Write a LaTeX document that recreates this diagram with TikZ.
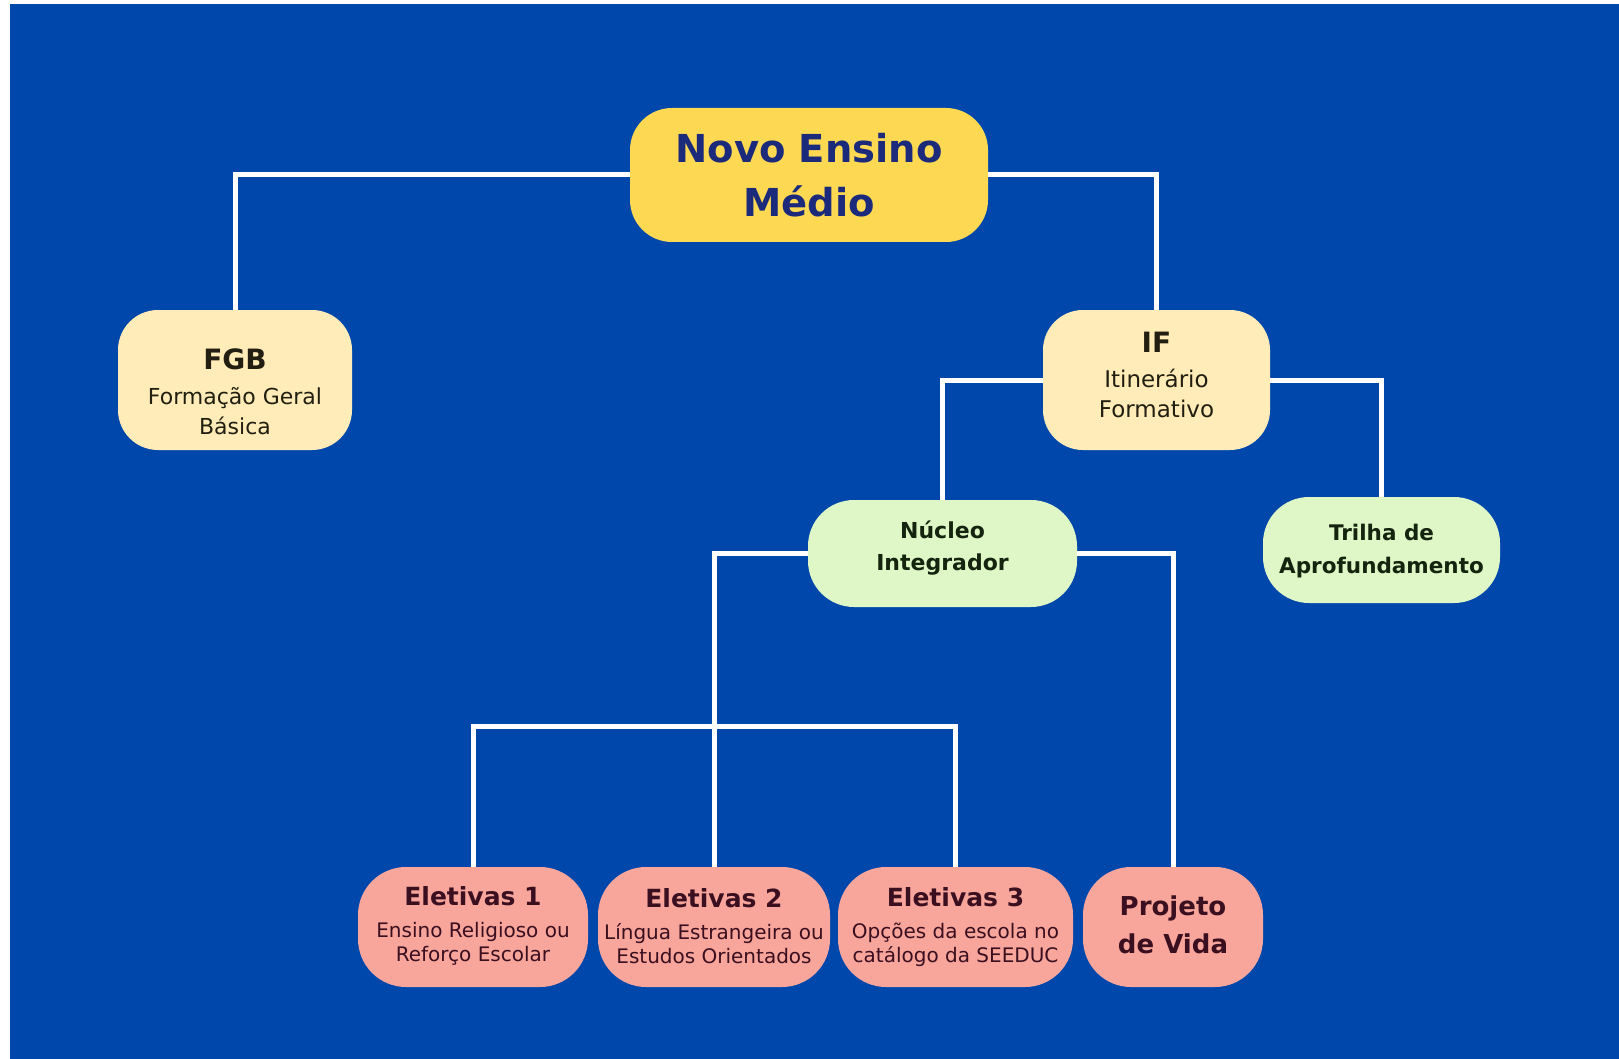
\documentclass[tikz,border=0pt]{standalone}
\usepackage{fontspec}
\setmainfont{DejaVu Sans}
\definecolor{bgblue}{HTML}{0047AB}
\definecolor{topfill}{HTML}{FDD853}
\definecolor{topink}{HTML}{1C2A7C}
\definecolor{creamfill}{HTML}{FFECB8}
\definecolor{creamink}{HTML}{221E12}
\definecolor{greenfill}{HTML}{DFF7C6}
\definecolor{greenink}{HTML}{15240F}
\definecolor{pinkfill}{HTML}{F8A59B}
\definecolor{pinkink}{HTML}{3A0F20}
\tikzset{
  boxshape/.style={rectangle, draw=none, inner sep=0pt, outer sep=0pt},
  topbox/.style={boxshape, fill=topfill, rounded corners=42pt},
  creambox/.style={boxshape, fill=creamfill, rounded corners=40pt},
  greenbox/.style={boxshape, fill=greenfill, rounded corners=46pt},
  pinkbox/.style={boxshape, fill=pinkfill, rounded corners=48pt},
  txt/.style={align=center, inner sep=0pt},
  conn/.style={draw=white, line width=5pt}
}
\begin{document}
\begin{tikzpicture}[x=1pt,y=-1pt]
\useasboundingbox (0,0) rectangle (1619,1059);
\fill[white] (0,0) rectangle (1619,1059);
\fill[bgblue] (10,4) rectangle (1619,1059);

% shapes
\node[topbox, minimum width=358pt, minimum height=134pt] (top) at (809,175) {};
\node[creambox, minimum width=234pt, minimum height=140pt] (fgb) at (235,380) {};
\node[creambox, minimum width=227pt, minimum height=140pt] (if) at (1156.5,380) {};
\node[greenbox, minimum width=269pt, minimum height=107pt] (nuc) at (942.5,553.5) {};
\node[greenbox, minimum width=237pt, minimum height=106pt] (tri) at (1381.5,550) {};
\node[pinkbox, minimum width=230pt, minimum height=120pt] (e1) at (473,927) {};
\node[pinkbox, minimum width=232pt, minimum height=120pt] (e2) at (714,927) {};
\node[pinkbox, minimum width=235pt, minimum height=120pt] (e3) at (955.5,927) {};
\node[pinkbox, minimum width=180pt, minimum height=120pt] (pv) at (1173,927) {};

% connectors
\coordinate (bar) at (0,726);
\draw[conn] (top.west) -| (fgb.north);
\draw[conn] (top.east) -| (if.north);
\draw[conn] (if.west) -| (nuc.north);
\draw[conn] (if.east) -| (tri.north);
\draw[conn] (nuc.west) -| (e2.north);
\draw[conn] (nuc.east) -| (pv.north);
\draw[conn] (e1.north) -- (e1.north |- bar) -- (e3.north |- bar) -- (e3.north);

% texts
\node[txt, text=topink, font=\bfseries\fontsize{38.5}{54}\selectfont] (toptxt) at (809,175) {Novo Ensino\\Médio};
\node[txt, text=creamink, font=\fontsize{22}{30}\selectfont] (fgbtxt) at (235,391.5)
  {{\bfseries\fontsize{28}{30}\selectfont FGB}\\[5pt]Formação Geral\\Básica};
\node[txt, text=creamink, font=\fontsize{23}{30}\selectfont] (iftxt) at (1156.5,375)
  {{\bfseries\fontsize{28}{30}\selectfont IF}\\[5pt]Itinerário\\Formativo};
\node[txt, text=greenink, font=\bfseries\fontsize{22}{32}\selectfont] (nuctxt) at (942.5,548) {Núcleo\\Integrador};
\node[txt, text=greenink, font=\bfseries\fontsize{21.5}{33}\selectfont] (tritxt) at (1381.5,551) {Trilha de\\Aprofundamento};
\node[txt, text=pinkink, font=\fontsize{20}{24}\selectfont] (e1txt) at (473,926)
  {{\bfseries\fontsize{25}{24}\selectfont Eletivas 1}\\[8pt]Ensino Religioso ou\\Reforço Escolar};
\node[txt, text=pinkink, font=\fontsize{20}{24}\selectfont] (e2txt) at (714,926)
  {{\bfseries\fontsize{25}{24}\selectfont Eletivas 2}\\[8pt]Língua Estrangeira ou\\Estudos Orientados};
\node[txt, text=pinkink, font=\fontsize{20}{24}\selectfont] (e3txt) at (955.5,927)
  {{\bfseries\fontsize{25}{24}\selectfont Eletivas 3}\\[8pt]Opções da escola no\\catálogo da SEEDUC};
\node[txt, text=pinkink, font=\bfseries\fontsize{26}{38}\selectfont] (pvtxt) at (1173,925) {Projeto\\de Vida};
\end{tikzpicture}
\end{document}
